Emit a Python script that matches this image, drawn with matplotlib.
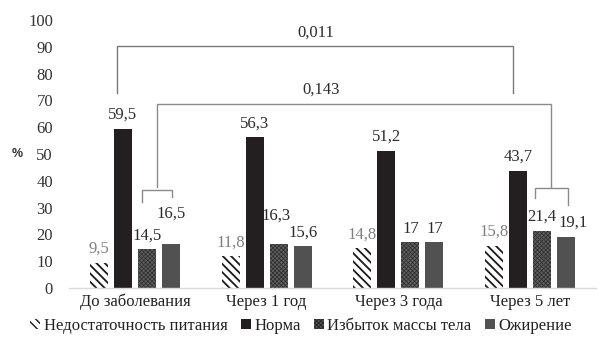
import matplotlib
matplotlib.use("Agg")
import matplotlib.pyplot as plt
from matplotlib.patches import Patch
import numpy as np

plt.rcParams['font.family'] = ['Liberation Serif', 'DejaVu Serif']

categories = ["До заболевания", "Через 1 год", "Через 3 года", "Через 5 лет"]
series_names = ["Недостаточность питания", "Норма", "Избыток массы тела", "Ожирение"]
undernutrition = [9.5, 11.8, 14.8, 15.8]
normal = [59.5, 56.3, 51.2, 43.7]
overweight = [14.5, 16.3, 17.0, 21.4]
obesity = [16.5, 15.6, 17.0, 19.1]
value_labels = [
    ["9,5", "11,8", "14,8", "15,8"],
    ["59,5", "56,3", "51,2", "43,7"],
    ["14,5", "16,3", "17", "21,4"],
    ["16,5", "15,6", "17", "19,1"],
]
p_values = ["0,011", "0,143"]
yticks = list(range(0, 101, 10))

series = [undernutrition, normal, overweight, obesity]
styles = [
    dict(facecolor="white", edgecolor="#1a1a1a", hatch="\\\\\\\\", hlw=1.3),
    dict(facecolor="#231f20", edgecolor="#231f20", hatch=None, hlw=1.0),
    dict(facecolor="#5e5e5e", edgecolor="#2e2e2e", hatch="xxxxxxxx", hlw=0.5),
    dict(facecolor="#515151", edgecolor="#515151", hatch=None, hlw=1.0),
]
label_colors = ["#808080", "#2a2a2a", "#2a2a2a", "#2a2a2a"]
# (dx, dy) extra offsets in points for crowded labels
label_shift = {(3, 0): (0, 12), (2, 1): (-2, 11), (3, 3): (5, 0)}

fig = plt.figure(figsize=(6.02, 3.43), dpi=100)
ax = fig.add_axes([69 / 602, 1 - 288 / 343, 527 / 602, 268 / 343])

x = np.arange(len(categories))
step = 0.1825
width = 0.137
for i, (vals, st) in enumerate(zip(series, styles)):
    with plt.rc_context({'hatch.linewidth': st["hlw"]}):
        bars = ax.bar(x + (i - 1.5) * step, vals, width=width,
                      facecolor=st["facecolor"], edgecolor=st["edgecolor"],
                      hatch=st["hatch"], linewidth=0, label=series_names[i])
    for j, b in enumerate(bars):
        dx, dy = label_shift.get((i, j), (0, 0))
        ax.annotate(value_labels[i][j],
                    (b.get_x() + b.get_width() / 2, b.get_height()),
                    xytext=(dx, 10 + dy), textcoords="offset points",
                    ha="center", va="center", fontsize=12,
                    color=label_colors[i])

# significance brackets
top_col = "#7a7a7a"
mid_col = "#8a8a8a"
ax.plot([-0.136, -0.136, 2.870, 2.870], [72.8, 90.3, 90.3, 72.8],
        color=top_col, lw=1.0, solid_joinstyle="miter")
ax.text(1.37, 95.1, p_values[0], ha="center", va="center", fontsize=12, color="#2a2a2a")
ax.plot([0.168, 0.168, 3.158, 3.158], [37.7, 68.7, 68.7, 37.7],
        color=mid_col, lw=1.0, solid_joinstyle="miter")
ax.text(1.41, 73.9, p_values[1], ha="center", va="center", fontsize=12, color="#2a2a2a")
ax.plot([0.054, 0.054, 0.282, 0.282], [32.1, 36.6, 36.6, 34.0],
        color=mid_col, lw=1.0, solid_joinstyle="miter")
ax.plot([3.037, 3.037, 3.287, 3.287], [33.6, 37.3, 37.3, 31.0],
        color=mid_col, lw=1.0, solid_joinstyle="miter")

ax.set_xlim(-0.5, 3.5)
ax.set_ylim(0, 100)
ax.set_yticks(yticks)
ax.set_yticklabels([str(t) for t in yticks], fontsize=12, color="#333333")
ax.set_xticks(x)
ax.set_xticklabels(categories, fontsize=12, color="#222222")
ax.tick_params(axis="y", length=0, pad=11.5)
ax.tick_params(axis="x", length=0, pad=4)
for s in ["top", "right", "left"]:
    ax.spines[s].set_visible(False)
ax.spines["bottom"].set_color("#d9d9d9")
ax.spines["bottom"].set_linewidth(1.0)
ax.set_ylabel("%", rotation=0, fontsize=9, fontfamily="Liberation Sans",
              fontweight="bold", color="#333333", va="center")
ax.yaxis.set_label_coords(-0.098, 0.5)

handles = []
for i, st in enumerate(styles):
    with plt.rc_context({'hatch.linewidth': st["hlw"]}):
        handles.append(Patch(facecolor=st["facecolor"], edgecolor=st["edgecolor"],
                             hatch=st["hatch"], linewidth=0, label=series_names[i]))
fig.legend(handles=handles, loc="center", bbox_to_anchor=(0.5, 1 - 326 / 343),
           ncol=4, frameon=False, fontsize=12, handlelength=0.6,
           handleheight=0.6, handletextpad=0.2, columnspacing=0.8,
           labelcolor="#222222")

fig.savefig("out.png", dpi=100)
